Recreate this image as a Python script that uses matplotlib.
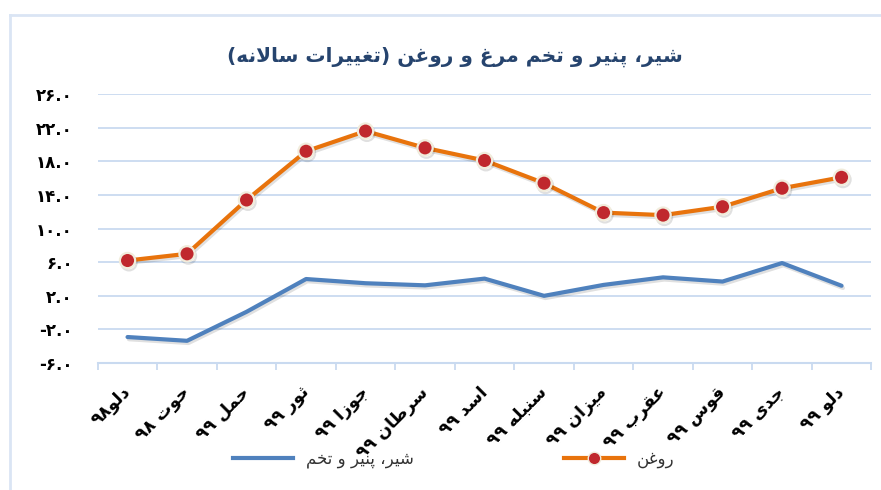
import numpy as np
import matplotlib
matplotlib.use("Agg")
import matplotlib.pyplot as plt
import matplotlib.patheffects as pe
from matplotlib.ticker import FixedLocator, FuncFormatter
from matplotlib.lines import Line2D


months = ["دلو۹۸", "حوت ۹۸", "حمل ۹۹", "ثور ۹۹", "جوزا ۹۹", "سرطان ۹۹", "اسد ۹۹",
          "سنبله ۹۹", "میزان ۹۹", "عقرب ۹۹", "قوس ۹۹", "جدی ۹۹", "دلو ۹۹"]
dairy = [-2.9, -3.35, 0.1, 4.0, 3.5, 3.25, 4.05, 2.0, 3.3, 4.2, 3.7, 5.9, 3.2]
oil = [6.2, 7.0, 13.4, 19.2, 21.6, 19.6, 18.1, 15.4, 11.9, 11.6, 12.6, 14.8, 16.1]
yticks = [-6, -2, 2, 6, 10, 14, 18, 22, 26]

title = "شیر، پنیر و تخم مرغ و روغن (تغییرات سالانه)"
lbl_dairy = "شیر، پنیر و تخم"
lbl_oil = "روغن"


# --- tiny arabic/persian shaper (matplotlib has no text shaping) ---
DUAL = {"ب": 0xFE8F, "ت": 0xFE95, "ث": 0xFE99, "ج": 0xFE9D, "ح": 0xFEA1,
        "خ": 0xFEA5, "س": 0xFEB1, "ش": 0xFEB5, "ص": 0xFEB9, "ض": 0xFEBD,
        "ط": 0xFEC1, "ظ": 0xFEC5, "ع": 0xFEC9, "غ": 0xFECD, "ف": 0xFED1,
        "ق": 0xFED5, "ل": 0xFEDD, "م": 0xFEE1, "ن": 0xFEE5, "ه": 0xFEE9,
        "پ": 0xFB56, "ی": 0xFBFC, "ک": 0xFB8E, "گ": 0xFB92, "چ": 0xFB7A}
RIGHT = {"ا": 0xFE8D, "د": 0xFEA9, "ذ": 0xFEAB, "ر": 0xFEAD, "ز": 0xFEAF,
         "و": 0xFEED, "ژ": 0xFB8A}
FA_DIGITS = "۰۱۲۳۴۵۶۷۸۹"


def shape(s):
    out = []
    i = 0
    while i < len(s):
        c = s[i]
        prev = s[i - 1] if i > 0 else ""
        nxt = s[i + 1] if i + 1 < len(s) else ""
        con_prev = prev in DUAL
        if c == "ل" and nxt == "ا":
            out.append(chr(0xFEFC if con_prev else 0xFEFB))
            i += 2
            continue
        if c in DUAL:
            con_next = nxt in DUAL or nxt in RIGHT
            form = {(False, False): 0, (True, False): 1,
                    (False, True): 2, (True, True): 3}[(con_prev, con_next)]
            out.append(chr(DUAL[c] + form))
        elif c in RIGHT:
            out.append(chr(RIGHT[c] + (1 if con_prev else 0)))
        else:
            out.append(c)
        i += 1
    # visual order: reverse, keep digit runs LTR, mirror brackets
    vis = out[::-1]
    res, run = [], []
    for ch in vis:
        if ch in FA_DIGITS or ch.isdigit():
            run.append(ch)
        else:
            res.extend(run[::-1])
            run = []
            res.append({"(": ")", ")": "("}.get(ch, ch))
    res.extend(run[::-1])
    return "".join(res)


def fa_num(v, pos=None):
    s = "%.1f" % abs(v)
    s = "".join(FA_DIGITS[int(ch)] if ch.isdigit() else ch for ch in s)
    return ("-" if v < 0 else "") + s


plt.rcParams["font.family"] = ["DejaVu Sans"]

fig = plt.figure(figsize=(8.81, 4.9), dpi=100)
ax = fig.add_axes([0.111, 0.259, 0.878, 0.549])

gridcolor = "#c9daf0"
x = np.arange(len(months))

shadow = [pe.SimpleLineShadow(offset=(1.0, -1.6), alpha=0.12), pe.Normal()]
ax.plot(x, dairy, color="#4f81bd", lw=3.0, solid_capstyle="round",
        path_effects=shadow, zorder=3)
ax.plot(x, oil, color="#e8730c", lw=3.0, marker="o", markersize=11,
        markerfacecolor="#c0282d", markeredgecolor="#f1ecdc",
        markeredgewidth=1.6, path_effects=shadow, zorder=4)

ax.set_xlim(-0.5, len(months) - 0.5)
ax.set_ylim(-6, 26)
ax.yaxis.set_major_locator(FixedLocator(yticks))
ax.yaxis.set_major_formatter(FuncFormatter(fa_num))
for v in yticks[1:]:
    ax.axhline(v, color=gridcolor, lw=1.3, zorder=1)

for s in ["top", "right", "left"]:
    ax.spines[s].set_visible(False)
ax.spines["bottom"].set_color(gridcolor)
ax.spines["bottom"].set_linewidth(1.5)

ax.set_xticks(x)
ax.set_xticklabels([shape(m) for m in months], rotation=45, ha="right",
                   va="center", rotation_mode="anchor",
                   fontsize=12.5, fontweight="bold")
ax.set_xticks(np.arange(-0.5, len(months)), minor=True)
ax.tick_params(axis="x", which="major", length=0, pad=19)
ax.tick_params(axis="x", which="minor", length=5, width=1.3, color=gridcolor)
ax.tick_params(axis="y", length=0, pad=18, labelsize=12)
for t in ax.get_yticklabels():
    t.set_fontweight("bold")

fig.text(0.516, 0.885, shape(title), ha="center", va="center",
         fontsize=14.5, fontweight="bold", color="#26446e")

# chart frame
fig.add_artist(Line2D([10 / 881, 10 / 881], [0, 1 - 15 / 490],
                      color="#dae5f4", lw=2))
fig.add_artist(Line2D([10 / 881, 1], [1 - 15 / 490, 1 - 15 / 490],
                      color="#dae5f4", lw=2))

handles = [
    Line2D([], [], color="#4f81bd", lw=3.0),
    Line2D([], [], color="#e8730c", lw=3.0, marker="o", markersize=9,
           markerfacecolor="#c0282d", markeredgecolor="#f1ecdc"),
]
fig.legend(handles, [shape(lbl_dairy), shape(lbl_oil)], loc="center",
           bbox_to_anchor=(0.515, 0.063), ncol=2, frameon=False,
           fontsize=12, handlelength=3.6, columnspacing=9,
           labelcolor="#333333")

fig.savefig("out.png", dpi=100)
